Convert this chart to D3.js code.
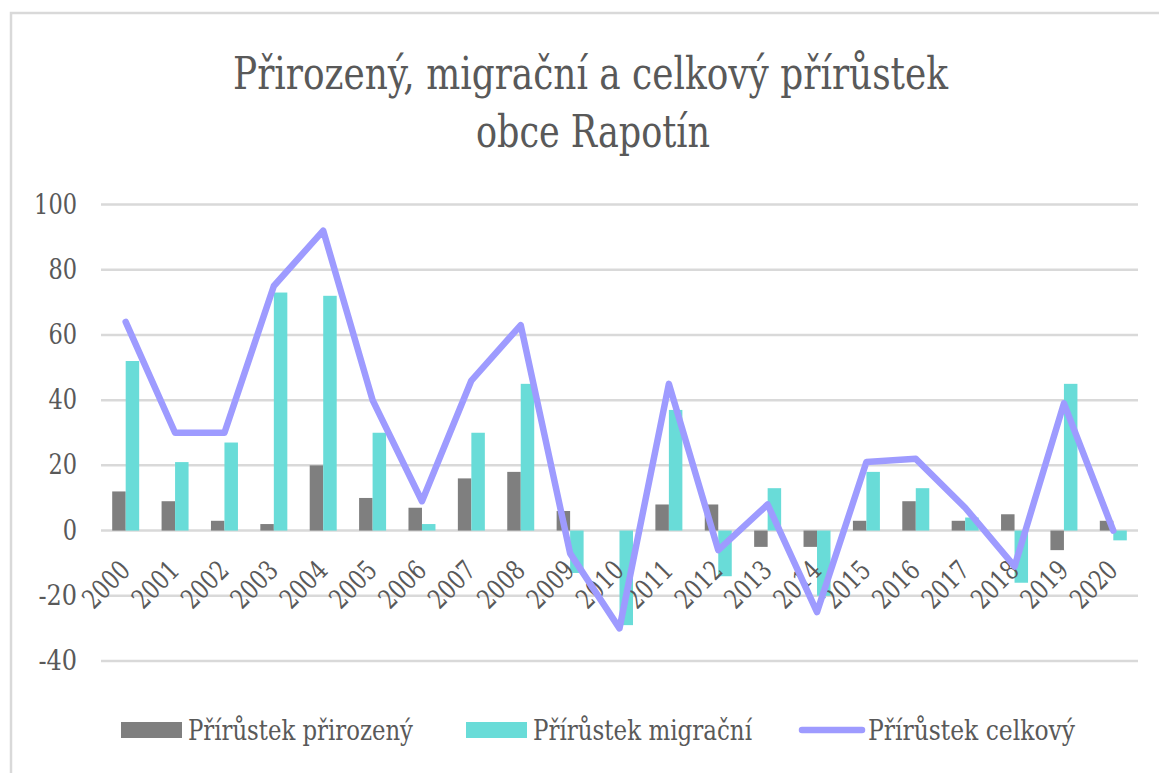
<!DOCTYPE html>
<html><head><meta charset="utf-8">
<script src="https://cdn.jsdelivr.net/npm/d3@7"></script>
<style>
html,body{margin:0;padding:0;background:#fff;}
svg{display:block;}
</style></head>
<body>
<svg id="chart" width="1159" height="773"></svg>
<script>
const years = ["2000","2001","2002","2003","2004","2005","2006","2007","2008","2009","2010","2011","2012","2013","2014","2015","2016","2017","2018","2019","2020"];
const natural = [12, 9, 3, 2, 20, 10, 7, 16, 18, 6, 0, 8, 8, -5, -5, 3, 9, 3, 5, -6, 3];
const migration = [52, 21, 27, 73, 72, 30, 2, 30, 45, -13, -29, 37, -14, 13, -20, 18, 13, 4, -16, 45, -3];
const total = [64, 30, 30, 75, 92, 40, 9, 46, 63, -7, -30, 45, -6, 8, -25, 21, 22, 7, -11, 39, 0];
const yTicks = [-40, -20, 0, 20, 40, 60, 80, 100];
const titleLines = ["Přirozený, migrační a celkový přírůstek", "obce Rapotín"];
const seriesNames = ["Přírůstek přirozený", "Přírůstek migrační", "Přírůstek celkový"];

const colNat = "#7f7f7f", colMig = "#69dcd8", colTot = "#9e9bff";
const FONT = "DejaVu Serif";
const TXT = "#595959";

const svg = d3.select("#chart");

svg.append("rect").attr("x", 11).attr("y", 13).attr("width", 1300).attr("height", 900)
  .attr("fill", "none").attr("stroke", "#d9d9d9").attr("stroke-width", 2.5);

// title
svg.append("text").attr("x", 233).attr("y", 89)
  .attr("font-size", 45).attr("fill", TXT).attr("font-family", FONT)
  .attr("textLength", 715).attr("lengthAdjust", "spacingAndGlyphs").text(titleLines[0]);
svg.append("text").attr("x", 476).attr("y", 147)
  .attr("font-size", 45).attr("fill", TXT).attr("font-family", FONT)
  .attr("textLength", 234).attr("lengthAdjust", "spacingAndGlyphs").text(titleLines[1]);

const x = d3.scaleBand().domain(years).range([101, 1138]).padding(0);
const y = d3.scaleLinear().domain([-40, 100]).range([661, 204.5]);
const keys = ["n", "m"];
const xs = d3.scaleBand().domain(keys).range([0, x.bandwidth()]).paddingInner(0).paddingOuter(0.83);

// grid
svg.append("g").selectAll("line").data(yTicks).join("line")
  .attr("x1", 101).attr("x2", 1138)
  .attr("y1", d => y(d)).attr("y2", d => y(d))
  .attr("stroke", "#d9d9d9").attr("stroke-width", 2.5);

// y labels
const yAxis = d3.axisLeft(y).tickValues(yTicks).tickSize(0).tickPadding(0).tickFormat(d => String(d));
const gy = svg.append("g").attr("transform", "translate(77,0)").call(yAxis);
gy.attr("font-family", FONT).attr("font-size", 27);
gy.select(".domain").remove();
gy.selectAll("text").attr("fill", TXT)
  .attr("textLength", d => String(Math.abs(d)).length * 14.3 + (d < 0 ? 10 : 0))
  .attr("lengthAdjust", "spacingAndGlyphs");

// bars
const data = years.map((yr, i) => ({ yr, n: natural[i], m: migration[i] }));
const gBars = svg.append("g");
keys.forEach(k => {
  gBars.selectAll("rect." + k).data(data).join("rect").attr("class", k)
    .attr("x", d => x(d.yr) + xs(k))
    .attr("width", xs.bandwidth())
    .attr("y", d => y(Math.max(0, d[k])))
    .attr("height", d => Math.abs(y(d[k]) - y(0)))
    .attr("fill", k === "n" ? colNat : colMig);
});

// x labels
const xAxis = d3.axisBottom(x).tickSize(0).tickPadding(0);
const gx = svg.append("g").call(xAxis);
gx.attr("font-family", FONT).attr("font-size", 27);
gx.select(".domain").remove();
gx.selectAll(".tick").attr("transform", d => `translate(${x(d) + x.bandwidth() / 2 + 6},572)`);
gx.selectAll("text").attr("fill", TXT)
  .attr("text-anchor", "end").attr("dy", 0).attr("y", 0)
  .attr("textLength", 54).attr("lengthAdjust", "spacingAndGlyphs")
  .attr("transform", "rotate(-45)");

// line
const line = d3.line().x((d, i) => x(years[i]) + x.bandwidth() / 2).y(d => y(d));
svg.append("path").datum(total).attr("d", line).attr("fill", "none")
  .attr("stroke", colTot).attr("stroke-width", 6.5)
  .attr("stroke-linejoin", "round").attr("stroke-linecap", "round");

// legend
const leg = svg.append("g").attr("font-size", 28).attr("fill", TXT).attr("font-family", FONT);
const legItems = [
  { name: seriesNames[0], sx: 121, tx: 188, tl: 225, type: "rect", col: colNat },
  { name: seriesNames[1], sx: 466, tx: 533, tl: 219, type: "rect", col: colMig },
  { name: seriesNames[2], sx: 802, tx: 868, tl: 207, type: "line", col: colTot }
];
legItems.forEach(it => {
  if (it.type === "rect") {
    leg.append("rect").attr("x", it.sx).attr("y", 722).attr("width", 61).attr("height", 16).attr("fill", it.col);
  } else {
    leg.append("line").attr("x1", it.sx).attr("x2", it.sx + 60).attr("y1", 730).attr("y2", 730)
      .attr("stroke", it.col).attr("stroke-width", 6.5).attr("stroke-linecap", "round");
  }
  leg.append("text").attr("x", it.tx).attr("y", 740)
    .attr("textLength", it.tl).attr("lengthAdjust", "spacingAndGlyphs").text(it.name);
});
</script>
</body></html>
